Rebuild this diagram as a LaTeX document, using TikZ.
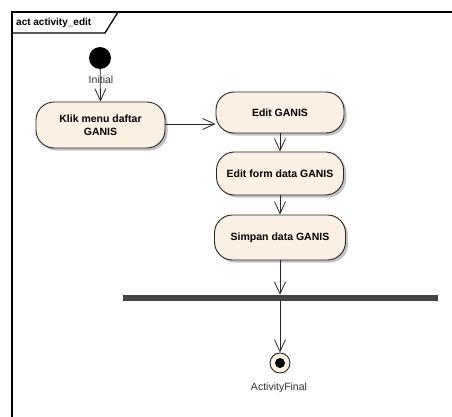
\documentclass[tikz,border=0pt]{standalone}
\usepackage{fontspec}
\setmainfont{Liberation Sans}
\usetikzlibrary{arrows.meta,shadows}
\definecolor{nodefill}{RGB}{250,240,227}
\definecolor{bargrey}{RGB}{68,68,68}
\definecolor{labelgrey}{RGB}{51,51,51}
\begin{document}
\begin{tikzpicture}[x=1pt,y=-1pt,
  act/.style={draw=black!85, line width=0.9pt, fill=nodefill, rounded corners=18pt,
    minimum width=129pt, inner sep=2pt, align=center,
    font=\fontsize{10.5}{12.5}\selectfont\bfseries,
    drop shadow={shadow xshift=2.5pt, shadow yshift=-2.5pt, fill=black!40, opacity=0.6}},
  arr/.style={draw=black!85, line width=0.8pt, -{Straight Barb[length=12pt,width=11pt,line width=0.8pt]}},
  lbl/.style={text=labelgrey, font=\fontsize{10.5}{12}\selectfont}
]
\useasboundingbox (0,0) rectangle (452,417);
% frame
\draw[line width=2pt] (12,417) -- (12,12) -- (452,12);
\draw[line width=1.3pt] (12,33) -- (105,33) -- (118,12);
\node[anchor=west, font=\fontsize{10}{12}\selectfont\bfseries, inner sep=0] (title) at (16,22.5) {act activity\_edit};
% nodes
\node[circle, fill=black, minimum size=22pt, inner sep=0] (init) at (100,58) {};
\node[act, minimum height=46pt] (klik) at (100.5,125) {Klik menu daftar\\GANIS};
\node[act, minimum height=41pt, minimum width=128pt] (edit) at (280,112.5) {Edit GANIS};
\node[act, minimum height=43pt, minimum width=127pt] (form) at (280,173.5) {Edit form data GANIS};
\node[act, minimum height=45pt, minimum width=131pt] (simpan) at (280,237.5) {Simpan data GANIS};
\node[fill=bargrey, minimum width=315pt, minimum height=6pt, inner sep=0] (bar) at (280.5,298) {};
\node[circle, draw=black!85, line width=0.9pt, fill=nodefill, minimum size=20pt, inner sep=0] (final) at (280,363) {};
\fill[black] (final.center) circle (5pt);
% connectors
\draw[arr] (init) -- (klik.north);
\node[lbl, inner sep=0] (initlbl) at (101,80) {Initial};
\draw[arr] (klik.east |- 0,124) -- (edit.west |- 0,124);
\draw[arr] (edit.south) -- (form.north);
\draw[arr] (form.south) -- (simpan.north);
\draw[arr] (simpan.south) -- (simpan.south |- bar.north);
\draw[arr] (final |- bar.south) -- (final.north);
\node[lbl, inner sep=0] (finallbl) at (279,388) {ActivityFinal};
\end{tikzpicture}
\end{document}
